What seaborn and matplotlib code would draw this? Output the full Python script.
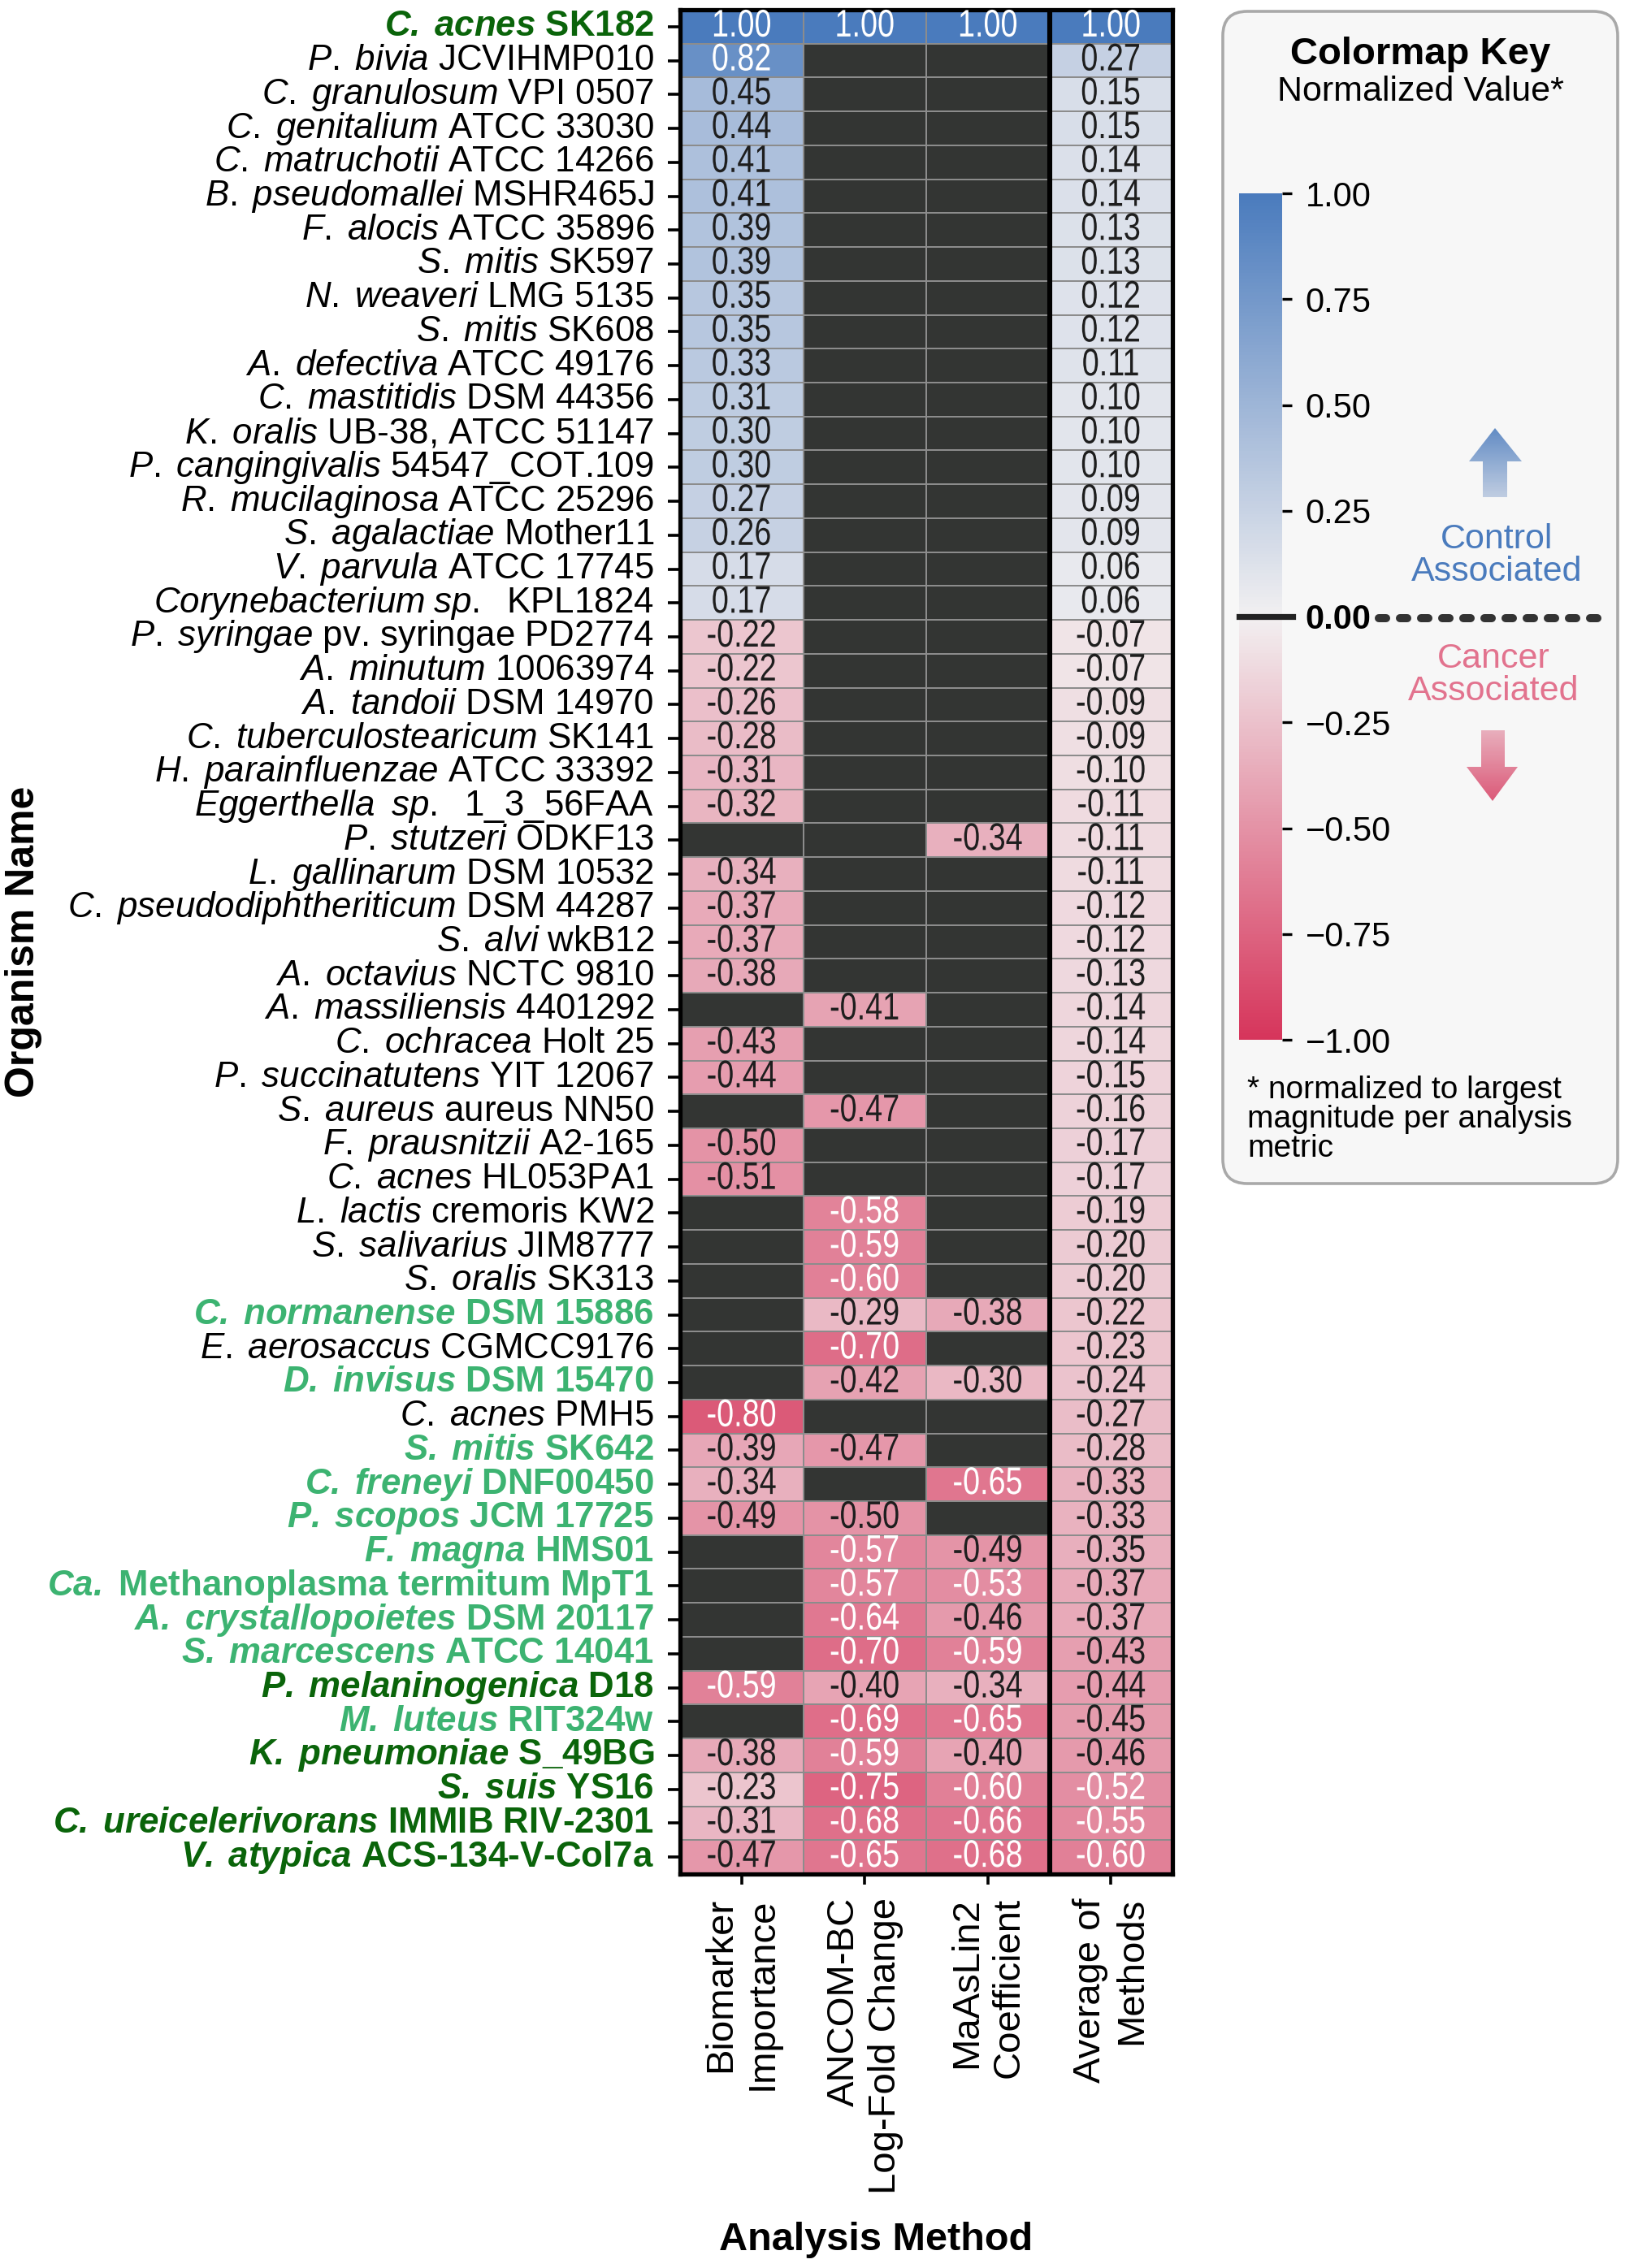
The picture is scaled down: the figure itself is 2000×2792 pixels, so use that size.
import numpy as np
import pandas as pd
import seaborn as sns
import matplotlib.pyplot as plt
from matplotlib.colors import LinearSegmentedColormap, ListedColormap
from matplotlib.patches import FancyBboxPatch, Polygon
from matplotlib.patheffects import AbstractPathEffect
from matplotlib.transforms import Affine2D

nan = np.nan

# organism labels: italic part, plain part, highlight (0 none, 1 dark green, 2 light green)
species = [
    'C. acnes', 'P. bivia', 'C. granulosum', 'C. genitalium', 'C. matruchotii',
    'B. pseudomallei', 'F. alocis', 'S. mitis', 'N. weaveri', 'S. mitis',
    'A. defectiva', 'C. mastitidis', 'K. oralis', 'P. cangingivalis', 'R. mucilaginosa',
    'S. agalactiae', 'V. parvula', 'Corynebacterium sp.', 'P. syringae', 'A. minutum',
    'A. tandoii', 'C. tuberculostearicum', 'H. parainfluenzae', 'Eggerthella  sp.', 'P. stutzeri',
    'L. gallinarum', 'C. pseudodiphtheriticum', 'S. alvi', 'A. octavius', 'A. massiliensis',
    'C. ochracea', 'P. succinatutens', 'S. aureus', 'F. prausnitzii', 'C. acnes',
    'L. lactis', 'S. salivarius', 'S. oralis', 'C. normanense', 'E. aerosaccus',
    'D. invisus', 'C. acnes', 'S. mitis', 'C. freneyi', 'P. scopos',
    'F. magna', 'Ca.', 'A. crystallopoietes', 'S. marcescens', 'P. melaninogenica',
    'M. luteus', 'K. pneumoniae', 'S. suis', 'C. ureicelerivorans', 'V. atypica',
]
strains = [
    'SK182', 'JCVIHMP010', 'VPI 0507', 'ATCC 33030', 'ATCC 14266',
    'MSHR465J', 'ATCC 35896', 'SK597', 'LMG 5135', 'SK608',
    'ATCC 49176', 'DSM 44356', 'UB-38, ATCC 51147', '54547_COT.109', 'ATCC 25296',
    'Mother11', 'ATCC 17745', ' KPL1824', 'pv. syringae PD2774', '10063974',
    'DSM 14970', 'SK141', 'ATCC 33392', ' 1_3_56FAA', 'ODKF13',
    'DSM 10532', 'DSM 44287', 'wkB12', 'NCTC 9810', '4401292',
    'Holt 25', 'YIT 12067', 'aureus NN50', 'A2-165', 'HL053PA1',
    'cremoris KW2', 'JIM8777', 'SK313', 'DSM 15886', 'CGMCC9176',
    'DSM 15470', 'PMH5', 'SK642', 'DNF00450', 'JCM 17725',
    'HMS01', 'Methanoplasma termitum MpT1', 'DSM 20117', 'ATCC 14041', 'D18',
    'RIT324w', 'S_49BG', 'YS16', 'IMMIB RIV-2301', 'ACS-134-V-Col7a',
]
highlight = [1] + [0] * 37 + [2, 0, 2, 0, 2, 2, 2, 2, 2, 2, 2, 1, 2, 1, 1, 1, 1]

methods = ['Biomarker\nImportance', 'ANCOM-BC\nLog-Fold Change',
           'MaAsLin2\nCoefficient', 'Average of\nMethods']

biomarker = [1.00, 0.82, 0.45, 0.44, 0.41, 0.41, 0.39, 0.39, 0.35, 0.35,
             0.33, 0.31, 0.30, 0.30, 0.27, 0.26, 0.17, 0.17, -0.22, -0.22,
             -0.26, -0.28, -0.31, -0.32, nan, -0.34, -0.37, -0.37, -0.38, nan,
             -0.43, -0.44, nan, -0.50, -0.51, nan, nan, nan, nan, nan,
             nan, -0.80, -0.39, -0.34, -0.49, nan, nan, nan, nan, -0.59,
             nan, -0.38, -0.23, -0.31, -0.47]
ancom = [1.00] + [nan] * 28 + [-0.41, nan, nan, -0.47, nan, nan,
         -0.58, -0.59, -0.60, -0.29, -0.70, -0.42, nan, -0.47, nan, -0.50,
         -0.57, -0.57, -0.64, -0.70, -0.40, -0.69, -0.59, -0.75, -0.68, -0.65]
maaslin = [1.00] + [nan] * 23 + [-0.34] + [nan] * 13 + [-0.38, nan, -0.30, nan, nan,
           -0.65, nan, -0.49, -0.53, -0.46, -0.59, -0.34, -0.65, -0.40, -0.60, -0.66, -0.68]
average = [1.00, 0.27, 0.15, 0.15, 0.14, 0.14, 0.13, 0.13, 0.12, 0.12,
           0.11, 0.10, 0.10, 0.10, 0.09, 0.09, 0.06, 0.06, -0.07, -0.07,
           -0.09, -0.09, -0.10, -0.11, -0.11, -0.11, -0.12, -0.12, -0.13, -0.14,
           -0.14, -0.15, -0.16, -0.17, -0.17, -0.19, -0.20, -0.20, -0.22, -0.23,
           -0.24, -0.27, -0.28, -0.33, -0.33, -0.35, -0.37, -0.37, -0.43, -0.44,
           -0.45, -0.46, -0.52, -0.55, -0.60]

cbar_ticks = [1.0, 0.75, 0.5, 0.25, 0.0, -0.25, -0.5, -0.75, -1.0]


class Condense(AbstractPathEffect):
    # squeeze text horizontally around its centre (narrow-font look)
    def __init__(self, sx):
        super().__init__()
        self.sx = sx

    def draw_path(self, renderer, gc, tpath, affine, rgbFace=None):
        ext = tpath.get_extents()
        cx = (ext.x0 + ext.x1) / 2
        t = Affine2D().translate(-cx, 0).scale(self.sx, 1).translate(cx, 0) + affine
        renderer.draw_path(gc, tpath, t, rgbFace)


plt.rcParams['font.family'] = ['Liberation Sans', 'DejaVu Sans']
plt.rcParams['mathtext.fontset'] = 'custom'
plt.rcParams['mathtext.rm'] = 'Liberation Sans'
plt.rcParams['mathtext.it'] = 'Liberation Sans:italic'
plt.rcParams['mathtext.bf'] = 'Liberation Sans:bold'
has_bfit = 'mathtext.bfit' in plt.rcParams
if has_bfit:
    plt.rcParams['mathtext.bfit'] = 'Liberation Sans:italic:bold'


def make_label(italic, rest, bold):
    tex = italic.replace(' ', r'\;')
    cmd = (r'\mathbfit' if has_bfit else r'\mathbf') if bold else r'\mathit'
    return '$' + cmd + '{' + tex + '}$ ' + rest


labels = [make_label(s, r, h > 0) for s, r, h in zip(species, strains, highlight)]
df = pd.DataFrame(dict(zip(methods, [biomarker, ancom, maaslin, average])), index=labels)

cmap = LinearSegmentedColormap.from_list('ctrl_cancer', ['#d6355b', '#f2f0f1', '#4a7bbd'])
label_colors = {0: 'black', 1: '#0a640a', 2: '#3cb371'}

W, H = 2000, 2792
fig = plt.figure(figsize=(W / 200, H / 200), dpi=200)


def rect(x0, y0, x1, y1):
    return [x0 / W, 1 - y1 / H, (x1 - x0) / W, (y1 - y0) / H]


ov = fig.add_axes([0, 0, 1, 1], zorder=0)
ax = fig.add_axes(rect(837, 12, 1443, 2307), zorder=1)
cax = fig.add_axes(rect(1525, 238, 1578, 1280), zorder=2)

# missing values drawn as dark cells, then the real values on top
sns.heatmap(df.isna().astype(float), mask=df.notna(), cmap=ListedColormap(['#333533']),
            vmin=0, vmax=1, cbar=False, linewidths=0.6, linecolor='#8c8c8c', ax=ax)
sns.heatmap(df, cmap=cmap, vmin=-1, vmax=1, annot=True, fmt='.2f',
            annot_kws={'fontsize': 17, 'path_effects': [Condense(0.8)]},
            linewidths=0.6, linecolor='#8c8c8c', cbar_ax=cax, ax=ax)

for t in ax.texts:
    v = float(t.get_text())
    t.set_color('white' if abs(v) > 0.515 else '#1e1e1e')

for t in ax.get_xticklabels():
    t.set_rotation(90)
    t.set_fontsize(17)
    t.set_multialignment('right')
for t, h in zip(ax.get_yticklabels(), highlight):
    t.set_rotation(0)
    t.set_fontsize(15.8)
    t.set_color(label_colors[h])
    if h > 0:
        t.set_fontweight('bold')

ax.tick_params(axis='y', length=5.5, width=1.3, pad=6)
ax.tick_params(axis='x', length=4.5, width=1.3, pad=6)
for sp in ax.spines.values():
    sp.set_visible(True)
    sp.set_linewidth(1.9)
    sp.set_color('black')
ax.axvline(3, color='black', lw=2.2)

ax.set_xlabel('Analysis Method', fontsize=17.5, fontweight='bold')
ax.set_ylabel('Organism Name', fontsize=18, fontweight='bold')
ax.xaxis.set_label_coords(0.398, -0.1865)
ax.yaxis.set_label_coords(-1.295, 0.5)

# colorbar
cbar = ax.collections[-1].colorbar
cbar.set_ticks(cbar_ticks)
cbar.set_ticklabels([f'{t:.2f}'.replace('-', '\u2212') for t in cbar_ticks])
cbar.outline.set_visible(False)
cax.tick_params(length=4.3, width=1.2, pad=6, labelsize=15)
for t in cax.get_yticklabels():
    if t.get_text() == '0.00':
        t.set_fontweight('bold')
cax.plot([0, 1.25], [0, 0], color='#222222', lw=2.6,
         transform=cax.get_yaxis_transform(), clip_on=False)

# key panel
ov.set_xlim(0, W)
ov.set_ylim(H, 0)
ov.axis('off')
ov.add_patch(FancyBboxPatch((1505, 14), 486, 1443, boxstyle='round,pad=0,rounding_size=30',
                            fc='#f7f7f7', ec='#a9a9a9', lw=1.3, zorder=1))
ov.text(1748, 67, 'Colormap Key', ha='center', va='center', fontsize=17, fontweight='bold')
ov.text(1748, 113, 'Normalized Value*', ha='center', va='center', fontsize=15.5)
ov.text(1842, 684, 'Control\nAssociated', ha='center', va='center', fontsize=15.5,
        color='#4a7bbd', linespacing=1.0)
ov.text(1838, 831, 'Cancer\nAssociated', ha='center', va='center', fontsize=15.5,
        color='#e2738e', linespacing=1.0)
ov.text(1535, 1378, '* normalized to largest\nmagnitude per analysis\nmetric',
        ha='left', va='center', fontsize=14, linespacing=1.0)
ov.plot([1697, 1973], [761, 761], color='#333333', lw=3.6, ls=(0, (0.9, 1.7)),
        dash_capstyle='round', zorder=3)

up = [(1825, 612), (1825, 568), (1808, 568), (1840, 527), (1873, 568), (1855, 568), (1855, 612)]
down = [(1823, 899), (1823, 944), (1805, 944), (1837, 986), (1868, 944), (1852, 944), (1852, 899)]
for pts, vals in ((up, (0.85, 0.3)), (down, (-0.35, -0.8))):
    poly = Polygon(pts, closed=True, fc='none', ec='none', zorder=3)
    ov.add_patch(poly)
    xs, ys = zip(*pts)
    im = ov.imshow(np.linspace(vals[0], vals[1], 64)[:, None], cmap=cmap, vmin=-1, vmax=1,
                   extent=(min(xs), max(xs), max(ys), min(ys)), origin='upper',
                   aspect='auto', interpolation='bilinear', zorder=3)
    im.set_clip_path(poly)
ov.set_xlim(0, W)
ov.set_ylim(H, 0)

fig.savefig('out.png', dpi=200)
